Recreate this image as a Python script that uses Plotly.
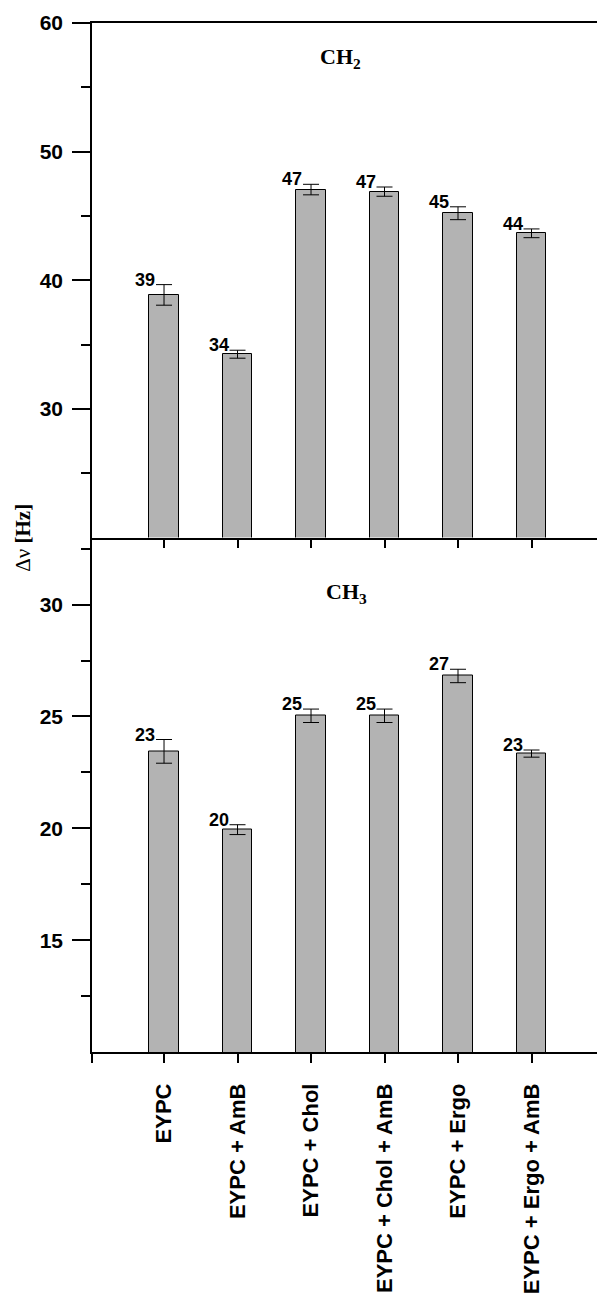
import plotly.graph_objects as go
from plotly.subplots import make_subplots

categories = ["EYPC", "EYPC + AmB", "EYPC + Chol", "EYPC + Chol + AmB", "EYPC + Ergo", "EYPC + Ergo + AmB"]
ch2_values = [38.86, 34.25, 47.05, 46.89, 45.21, 43.65]
ch2_errors = [0.80, 0.31, 0.41, 0.36, 0.50, 0.34]
ch3_values = [23.44, 19.94, 25.03, 25.03, 26.81, 23.34]
ch3_errors = [0.53, 0.22, 0.30, 0.30, 0.30, 0.16]
ch2_labels = ["39", "34", "47", "47", "45", "44"]
ch3_labels = ["23", "20", "25", "25", "27", "23"]

ch2_ticks = [30, 40, 50, 60]
ch2_minor = [25, 35, 45, 55]
ch3_ticks = [15, 20, 25, 30]
ch3_minor = [12.5, 17.5, 22.5, 27.5, 32.5]

xpos = list(range(len(categories)))
X_MIN = -0.98
SANS = "Liberation Sans, Arial, sans-serif"
SERIF = "Liberation Serif, Times New Roman, serif"
BAR_FILL = "#b3b3b3"

fig = make_subplots(rows=2, cols=1, shared_xaxes=False, vertical_spacing=0.0)

for row, vals, errs in [(1, ch2_values, ch2_errors), (2, ch3_values, ch3_errors)]:
    fig.add_trace(go.Bar(
        x=xpos, y=vals, width=0.4,
        marker=dict(color=BAR_FILL, line=dict(color="black", width=1)),
        error_y=dict(type="data", array=errs, visible=True, color="black", thickness=1, width=8),
        showlegend=False,
    ), row=row, col=1)

annotations = []
for yref, vals, errs, labs in [("y", ch2_values, ch2_errors, ch2_labels), ("y2", ch3_values, ch3_errors, ch3_labels)]:
    xref = "x" if yref == "y" else "x2"
    for i, (v, e, t) in enumerate(zip(vals, errs, labs)):
        annotations.append(dict(
            x=i, y=v + e, xref=xref, yref=yref, text="<b>%s</b>" % t, showarrow=False,
            xanchor="right", yanchor="bottom", xshift=-7, yshift=-7,
            font=dict(family=SANS, size=18, color="black"),
        ))

annotations.append(dict(x=2.4, y=57.3, xref="x", yref="y", text="<b>CH<sub>2</sub></b>", showarrow=False,
                        font=dict(family=SERIF, size=22, color="black")))
annotations.append(dict(x=2.48, y=30.5, xref="x2", yref="y2", text="<b>CH<sub>3</sub></b>", showarrow=False,
                        font=dict(family=SERIF, size=22, color="black")))
annotations.append(dict(x=-0.136, y=0.5, xref="paper", yref="paper", text="Δν <b>[Hz]</b>", showarrow=False,
                        textangle=-90, xanchor="center", yanchor="middle",
                        font=dict(family=SERIF, size=21, color="black")))

axis_common = dict(showline=True, linecolor="black", linewidth=1.5, showgrid=False, zeroline=False,
                   automargin=False)

fig.update_xaxes(**axis_common, range=[X_MIN, 6.0], tickmode="array", tickvals=xpos,
                 ticks="outside", ticklen=9, tickwidth=1.5, tickcolor="black")
fig.update_xaxes(row=1, col=1, showticklabels=False, mirror=True)
fig.update_xaxes(row=2, col=1, ticktext=categories, tickangle=-90, ticklabelstandoff=12,
                 tickfont=dict(family=SANS, size=22, color="black", weight="bold"),
                 minor=dict(tickmode="array", tickvals=[X_MIN], ticks="outside", ticklen=9, tickwidth=1.5, tickcolor="black"))

fig.update_yaxes(**axis_common, ticks="outside", ticklen=18, tickwidth=1.5, tickcolor="black",
                 tickfont=dict(family=SANS, size=21, color="black", weight="bold"), ticklabelstandoff=5)
fig.update_yaxes(row=1, col=1, range=[20, 60], tickmode="array", tickvals=ch2_ticks,
                 minor=dict(tickmode="array", tickvals=ch2_minor, ticks="outside", ticklen=9, tickwidth=1.5, tickcolor="black"))
fig.update_yaxes(row=2, col=1, range=[10, 33], tickmode="array", tickvals=ch3_ticks,
                 minor=dict(tickmode="array", tickvals=ch3_minor, ticks="outside", ticklen=9, tickwidth=1.5, tickcolor="black"))

# page body has an 8px default margin, so the figure is offset by 8px
fig.update_layout(
    width=597, height=1285,
    margin=dict(l=84, r=0, t=15, b=241),
    paper_bgcolor="white", plot_bgcolor="white",
    annotations=annotations,
    bargap=0,
)
fig.update_layout(yaxis=dict(domain=[0.5, 1.0]), yaxis2=dict(domain=[0.0, 0.5]))

fig.write_html("out.html")
